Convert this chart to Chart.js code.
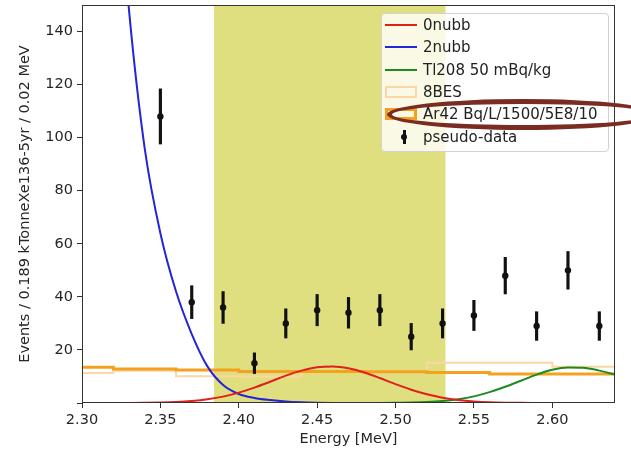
<!DOCTYPE html>
<html lang="en">
<head>
  <meta charset="UTF-8" />
  <title>Energy spectrum near Q-value</title>
  <script src="https://cdn.jsdelivr.net/npm/chart.js@4"></script>
  <style>
    body { margin: 0; background: #fff; font-family: "DejaVu Sans", sans-serif; }
    #wrap { position: relative; width: 631px; height: 452px; overflow: hidden; background: #fff; }
    #legend { position: absolute; left: 381px; top: 13px; width: 228px; height: 139px; box-sizing: border-box;
              border: 1px solid #d2d2d2; border-radius: 4px; background: rgba(255,255,255,0.8); }
    .row { position: absolute; left: 0; height: 22px; line-height: 22px; font-size: 15px; color: #222; white-space: nowrap; }
    .row .txt { position: absolute; left: 41px; top: 0; }
    .ico { position: absolute; box-sizing: border-box; }
    #ring { position: absolute; left: 387px; top: 99px; width: 272px; height: 31px; box-sizing: border-box;
            border: 5px solid #7a2c22; border-radius: 50%; }
  </style>
</head>
<body>
  <div id="wrap">
    <canvas id="spectrum" width="631" height="452"></canvas>
    <div id="legend"></div>
    <div id="ring"></div>
  </div>

  <script>
    // pseudo-data (bin centres, counts, errors)
    const dataX = [2.35, 2.37, 2.39, 2.41, 2.43, 2.45, 2.47, 2.49, 2.51, 2.53, 2.55, 2.57, 2.59, 2.61, 2.63];
    const dataY = [108, 38, 36, 15, 30, 35, 34, 35, 25, 30, 33, 48, 29, 50, 29];
    const dataErr = [10.4, 6.2, 6.0, 3.9, 5.5, 5.9, 5.8, 5.9, 5.0, 5.5, 5.7, 6.9, 5.4, 7.1, 5.4];

    // smooth model curves, read every 0.01 MeV
    const curveX = [2.30, 2.31, 2.32, 2.33, 2.34, 2.35, 2.36, 2.37, 2.38, 2.39, 2.40, 2.41, 2.42, 2.43, 2.44, 2.45, 2.46,
                    2.47, 2.48, 2.49, 2.50, 2.51, 2.52, 2.53, 2.54, 2.55, 2.56, 2.57, 2.58, 2.59, 2.60, 2.61, 2.62, 2.63, 2.64];
    const zeroNuBB = [0, 0, 0.01, 0.03, 0.07, 0.17, 0.38, 0.76, 1.4, 2.4, 3.9, 5.8, 8.0, 10.3, 12.2, 13.5, 13.8,
                      13.1, 11.5, 9.4, 7.1, 5.0, 3.3, 2.0, 1.1, 0.57, 0.28, 0.12, 0.05, 0.02, 0.01, 0, 0, 0, 0];
    const twoNuBB = [490, 330, 222, 148, 96, 64, 42, 26, 13.8, 6.8, 3.4, 1.9, 1.1, 0.55, 0.25, 0.1, 0.04,
                     0.02, 0.01, 0, 0, 0, 0, 0, 0, 0, 0, 0, 0, 0, 0, 0, 0, 0, 0];
    const tl208 = [0, 0, 0, 0, 0, 0, 0, 0, 0, 0, 0, 0, 0, 0, 0, 0, 0,
                   0, 0.01, 0.03, 0.07, 0.16, 0.37, 0.76, 1.45, 2.5, 4.1, 6.1, 8.4, 10.7, 12.5, 13.4, 13.3, 12.2, 10.7];

    // step histograms (bin edges, one value per bin)
    const histEdges = [2.28, 2.32, 2.36, 2.40, 2.44, 2.48, 2.52, 2.56, 2.60, 2.64];
    const bes8 = [11.3, 12.2, 10.1, 10.0, 11.9, 11.9, 15.2, 15.2, 13.7];
    const ar42 = [13.5, 12.8, 12.4, 11.9, 11.9, 11.8, 11.5, 10.9, 10.9];

    // region of interest band
    const roiLow = 2.384;
    const roiHigh = 2.532;
    const yMax = 150;

    const xTitle = 'Energy [MeV]';
    const yTitle = 'Events / 0.189 kTonneXe136-5yr / 0.02 MeV';

    const colors = {
      zero: '#e0201a',
      two: '#2424d8',
      tl: '#1c8a1c',
      bes: '#fcd7a6',
      ar: '#f4a21e',
      data: '#111111',
      roi: 'rgba(191,191,0,0.5)'
    };

    const font = { family: 'DejaVu Sans', size: 14.5 };
    const textColor = '#262626';

    const curve = vals => curveX.map((x, i) => ({ x: x, y: vals[i] }));
    const steps = vals => histEdges.map((x, i) => ({ x: x, y: vals[Math.min(i, vals.length - 1)] }));

    const framePlugin = {
      id: 'frame',
      afterDatasetsDraw(chart) {
        const { ctx, chartArea: a } = chart;
        ctx.save();
        ctx.strokeStyle = '#333';
        ctx.lineWidth = 1;
        ctx.strokeRect(a.left + 0.5, a.top + 0.5, a.right - a.left - 1, a.bottom - a.top - 1);
        ctx.restore();
      }
    };

    const lineDefaults = { type: 'line', pointRadius: 0, fill: false, borderWidth: 2 };

    new Chart(document.getElementById('spectrum').getContext('2d'), {
      type: 'line',
      data: {
        datasets: [
          { type: 'line', label: 'ROI', data: [{ x: roiLow, y: yMax }, { x: roiHigh, y: yMax }],
            fill: 'origin', backgroundColor: colors.roi, borderWidth: 0, pointRadius: 0, order: 20 },
          { ...lineDefaults, label: '8BES', data: steps(bes8), stepped: 'before', borderColor: colors.bes, borderWidth: 2, order: 6 },
          { ...lineDefaults, label: 'Ar42 Bq/L/1500/5E8/10', data: steps(ar42), stepped: 'before', borderColor: colors.ar, borderWidth: 3, order: 5 },
          { ...lineDefaults, label: 'Tl208 50 mBq/kg', data: curve(tl208), borderColor: colors.tl, cubicInterpolationMode: 'monotone', order: 4 },
          { ...lineDefaults, label: '2nubb', data: curve(twoNuBB), borderColor: colors.two, cubicInterpolationMode: 'monotone', order: 3 },
          { ...lineDefaults, label: '0nubb', data: curve(zeroNuBB), borderColor: colors.zero, cubicInterpolationMode: 'monotone', order: 2 },
          { type: 'bar', label: 'errors', data: dataX.map((x, i) => ({ x: x, y: [dataY[i] - dataErr[i], dataY[i] + dataErr[i]] })),
            backgroundColor: colors.data, barThickness: 2.5, borderWidth: 0, order: 1 },
          { type: 'line', label: 'pseudo-data', data: dataX.map((x, i) => ({ x: x, y: dataY[i] })),
            showLine: false, pointRadius: 3.2, pointBackgroundColor: colors.data, pointBorderWidth: 0, order: 0 }
        ]
      },
      options: {
        responsive: false,
        animation: false,
        devicePixelRatio: 1,
        layout: { padding: { left: 0, top: 5, right: 16, bottom: 0 } },
        plugins: { legend: { display: false }, tooltip: { enabled: false } },
        scales: {
          x: {
            type: 'linear', min: 2.30, max: 2.64, offset: false,
            grid: { display: true, drawOnChartArea: false, drawTicks: true, tickLength: 5, color: '#333', offset: false },
            border: { display: false },
            ticks: { stepSize: 0.05, includeBounds: false, padding: 4, color: textColor, font: font,
                     maxRotation: 0, autoSkip: false, callback: v => v.toFixed(2) },
            title: { display: true, text: xTitle, color: textColor, font: font, padding: { top: 0, bottom: 4 } },
            afterFit: s => { s.height = 49; s.paddingLeft = 0; s.paddingRight = 0; }
          },
          y: {
            min: 0, max: yMax,
            grid: { display: true, drawOnChartArea: false, drawTicks: true, tickLength: 5, color: '#333' },
            border: { display: false },
            ticks: { stepSize: 20, includeBounds: false, padding: 4, color: textColor, font: font,
                     callback: v => (v === 0 ? '' : v) },
            title: { display: true, text: yTitle, color: textColor, font: font, padding: { top: 17, bottom: 0 } },
            afterFit: s => { s.width = 82; s.paddingTop = 0; s.paddingBottom = 0; }
          }
        }
      },
      plugins: [framePlugin]
    });

    // legend box, matplotlib style, upper right
    const legendItems = [
      { name: '0nubb', kind: 'line', color: colors.zero },
      { name: '2nubb', kind: 'line', color: colors.two },
      { name: 'Tl208 50 mBq/kg', kind: 'line', color: colors.tl },
      { name: '8BES', kind: 'box', color: colors.bes, width: 2 },
      { name: 'Ar42 Bq/L/1500/5E8/10', kind: 'box', color: colors.ar, width: 3 },
      { name: 'pseudo-data', kind: 'data', color: colors.data }
    ];

    const legend = document.getElementById('legend');
    legendItems.forEach((item, i) => {
      const row = document.createElement('div');
      row.className = 'row';
      row.style.top = (0 + i * 22.3) + 'px';
      row.style.width = '226px';

      if (item.kind === 'line') {
        const ico = document.createElement('div');
        ico.className = 'ico';
        ico.style.cssText += `left:3px;top:10px;width:32px;height:2px;background:${item.color};`;
        row.appendChild(ico);
      } else if (item.kind === 'box') {
        const ico = document.createElement('div');
        ico.className = 'ico';
        ico.style.cssText += `left:3px;top:5px;width:32px;height:12px;border:${item.width}px solid ${item.color};`;
        row.appendChild(ico);
      } else {
        const bar = document.createElement('div');
        bar.className = 'ico';
        bar.style.cssText += `left:21px;top:4px;width:2.5px;height:14px;background:${item.color};`;
        const dot = document.createElement('div');
        dot.className = 'ico';
        dot.style.cssText += `left:19px;top:8px;width:6.4px;height:6.4px;border-radius:50%;background:${item.color};`;
        row.appendChild(bar);
        row.appendChild(dot);
      }

      const txt = document.createElement('span');
      txt.className = 'txt';
      txt.textContent = item.name;
      row.appendChild(txt);
      legend.appendChild(row);
    });
  </script>
</body>
</html>
